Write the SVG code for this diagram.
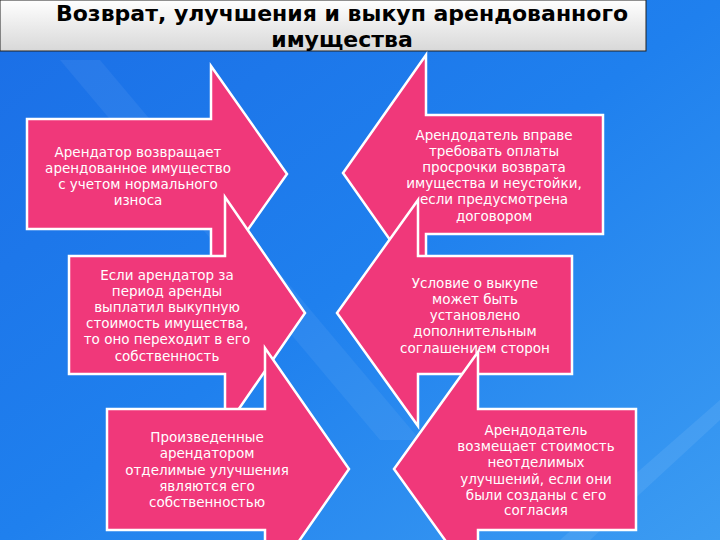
<svg xmlns="http://www.w3.org/2000/svg" width="720" height="540" viewBox="0 0 720 540">
<defs>
<linearGradient id="bg" x1="0" y1="0" x2="1" y2="1">
<stop offset="0" stop-color="#1b6ee6"/><stop offset="0.5" stop-color="#1f80ee"/><stop offset="1" stop-color="#3c9cf2"/>
</linearGradient>
<linearGradient id="tb" x1="0" y1="0" x2="0" y2="1">
<stop offset="0" stop-color="#ffffff"/><stop offset="1" stop-color="#d8d8d8"/>
</linearGradient>
<style>
.ar{fill:#f0387a;stroke:#ffffff;stroke-width:2.5;stroke-linejoin:miter}
.t{font-family:"DejaVu Sans","Liberation Sans",sans-serif;font-size:13.5px;fill:#ffffff;text-anchor:middle}
.h{font-family:"DejaVu Sans","Liberation Sans",sans-serif;font-size:22px;font-weight:bold;fill:#000;text-anchor:middle}
</style>
</defs>
<rect width="720" height="540" fill="url(#bg)"/>
<polygon points="60,60 380,440 420,440 100,60" fill="#ffffff" opacity="0.06"/>
<polygon points="560,540 720,400 720,420 590,540" fill="#ffffff" opacity="0.08"/>
<g id="title">
<rect x="0" y="0" width="646" height="51" fill="url(#tb)" stroke="#222" stroke-width="1"/>
<text class="h" x="342" y="21">Возврат, улучшения и выкуп арендованного</text>
<text class="h" x="342" y="47">имущества</text>
</g>
<g id="connectors"></g>
<g id="n1">
<polygon class="ar" points="27,119 211,119 211,66 287,174 211,282 211,229 27,229"/>
<text class="t"><tspan x="138" y="157">Арендатор возвращает</tspan><tspan x="138" y="173">арендованное имущество</tspan><tspan x="138" y="189">с учетом нормального</tspan><tspan x="138" y="205">износа</tspan></text>
</g>
<g id="n2">
<polygon class="ar" points="603,115 426,115 426,55 343,173 426,291 426,234 603,234"/>
<text class="t"><tspan x="494" y="140">Арендодатель вправе</tspan><tspan x="494" y="156">требовать оплаты</tspan><tspan x="494" y="172">просрочки  возврата</tspan><tspan x="494" y="188">имущества и  неустойки,</tspan><tspan x="494" y="204">если предусмотрена</tspan><tspan x="494" y="221">договором</tspan></text>
</g>
<g id="n3">
<polygon class="ar" points="69,256 225,256 225,197 305,313 225,429 225,374 69,374"/>
<text class="t"><tspan x="167" y="280">Если арендатор за</tspan><tspan x="167" y="296">период аренды</tspan><tspan x="167" y="312">выплатил выкупную</tspan><tspan x="167" y="328">стоимость имущества,</tspan><tspan x="167" y="344">то оно переходит в его</tspan><tspan x="167" y="361">собственность</tspan></text>
</g>
<g id="n4">
<polygon class="ar" points="572,256 418,256 418,200 337,313 418,426 418,374 572,374"/>
<text class="t"><tspan x="475" y="288">Условие о выкупе</tspan><tspan x="475" y="304">может быть</tspan><tspan x="475" y="320">установлено</tspan><tspan x="475" y="336">дополнительным</tspan><tspan x="475" y="353">соглашением сторон</tspan></text>
</g>
<g id="n5">
<polygon class="ar" points="107,409 265,409 265,348 349,469 265,590 265,530 107,530"/>
<text class="t"><tspan x="207" y="442">Произведенные</tspan><tspan x="207" y="458">арендатором</tspan><tspan x="207" y="475">отделимые улучшения</tspan><tspan x="207" y="491">являются его</tspan><tspan x="207" y="507">собственностью</tspan></text>
</g>
<g id="n6">
<polygon class="ar" points="636,409 478,409 478,352 394,469 478,586 478,530 636,530"/>
<text class="t"><tspan x="536" y="435">Арендодатель</tspan><tspan x="536" y="451">возмещает стоимость</tspan><tspan x="536" y="467">неотделимых</tspan><tspan x="536" y="484">улучшений, если они</tspan><tspan x="536" y="500">были созданы с его</tspan><tspan x="536" y="515">согласия</tspan></text>
</g>
</svg>
